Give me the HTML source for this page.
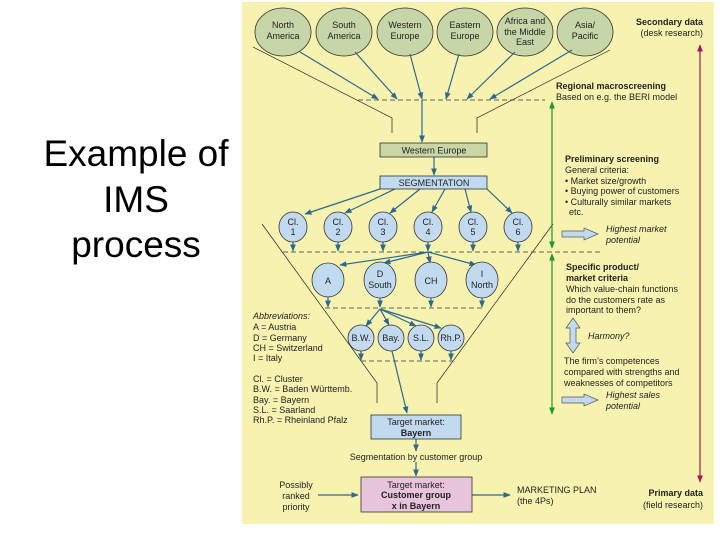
<!DOCTYPE html>
<html><head><meta charset="utf-8"><style>
html,body{margin:0;padding:0;background:#fff;}
svg{display:block;font-family:"Liberation Sans",sans-serif;}
</style></head><body>
<svg width="720" height="540" viewBox="0 0 720 540" xmlns="http://www.w3.org/2000/svg">
<defs>
<marker id="a" viewBox="0 0 10 10" refX="9" refY="5" markerWidth="6" markerHeight="6" orient="auto"><path d="M0,1 L10,5 L0,9 z" fill="#2a6a90"/></marker>
<marker id="g" viewBox="0 0 10 10" refX="9" refY="5" markerWidth="6" markerHeight="6" orient="auto-start-reverse"><path d="M0,1 L10,5 L0,9 z" fill="#1a9a2a"/></marker>
<marker id="p" viewBox="0 0 10 10" refX="9" refY="5" markerWidth="6" markerHeight="6" orient="auto-start-reverse"><path d="M0,1 L10,5 L0,9 z" fill="#a0185a"/></marker>
</defs>
<text x="136" y="166" font-size="37" text-anchor="middle" fill="#000">Example of</text>
<text x="136" y="212" font-size="37" text-anchor="middle" fill="#000">IMS</text>
<text x="136" y="257" font-size="37" text-anchor="middle" fill="#000">process</text>
<rect x="242" y="2" width="472" height="522" fill="#f7f2b0"/>
<g fill="#c7d6a8" stroke="#333" stroke-width="0.8">
<ellipse cx="283" cy="32" rx="28" ry="24"/><ellipse cx="344" cy="32" rx="28" ry="24"/><ellipse cx="405" cy="32" rx="28" ry="24"/><ellipse cx="465" cy="32" rx="28" ry="24"/><ellipse cx="525" cy="32" rx="28" ry="24"/><ellipse cx="585" cy="32" rx="28" ry="24"/>
</g>
<g font-size="9" fill="#222" text-anchor="middle">
<text x="283" y="28">North</text><text x="283" y="39">America</text>
<text x="344" y="28">South</text><text x="344" y="39">America</text>
<text x="405" y="28">Western</text><text x="405" y="39">Europe</text>
<text x="465" y="28">Eastern</text><text x="465" y="39">Europe</text>
<text x="525" y="24">Africa and</text><text x="525" y="35">the Middle</text><text x="525" y="45">East</text>
<text x="585" y="28">Asia/</text><text x="585" y="39">Pacific</text>
</g>
<g stroke="#222" stroke-width="0.7" fill="none">
<polyline points="253,47 392,118 392,133"/><polyline points="610,50 477,118 477,133"/>
<polyline points="262,224 377,383 377,403"/><polyline points="553,224 437,383 437,403"/>
</g>
<g stroke="#333" stroke-width="0.8" stroke-dasharray="5,3" fill="none">
<line x1="358" y1="100" x2="545" y2="100"/><line x1="283" y1="252" x2="600" y2="252"/>
<line x1="325" y1="308" x2="485" y2="308"/><line x1="361" y1="361" x2="453" y2="361"/>
</g>
<g stroke="#2a6a90" stroke-width="1.2" fill="none" marker-end="url(#a)">
<line x1="300" y1="52" x2="378" y2="99"/><line x1="355" y1="52" x2="397" y2="99"/><line x1="410" y1="54" x2="422" y2="99"/><line x1="459" y1="54" x2="446" y2="99"/><line x1="515" y1="52" x2="467" y2="99"/><line x1="572" y1="50" x2="490" y2="99"/>
<line x1="422" y1="100" x2="422" y2="142"/><line x1="434" y1="157" x2="434" y2="175"/>
<line x1="380" y1="189" x2="305" y2="214"/><line x1="395" y1="189" x2="345" y2="213"/><line x1="420" y1="189" x2="390" y2="213"/><line x1="445" y1="189" x2="432" y2="212"/><line x1="465" y1="189" x2="471" y2="212"/><line x1="487" y1="189" x2="512" y2="213"/>
<line x1="293" y1="242" x2="293" y2="251"/><line x1="338" y1="242" x2="338" y2="251"/><line x1="383" y1="242" x2="383" y2="251"/><line x1="428" y1="242" x2="428" y2="251"/><line x1="473" y1="242" x2="473" y2="251"/><line x1="518" y1="242" x2="518" y2="251"/>
<line x1="428" y1="252" x2="340" y2="265"/><line x1="428" y1="252" x2="384" y2="263"/><line x1="428" y1="252" x2="430" y2="263"/><line x1="428" y1="252" x2="476" y2="265"/>
<line x1="328" y1="296" x2="328" y2="307"/><line x1="380" y1="298" x2="380" y2="307"/><line x1="431" y1="298" x2="431" y2="307"/><line x1="482" y1="298" x2="482" y2="307"/>
<line x1="380" y1="309" x2="366" y2="326"/><line x1="380" y1="309" x2="389" y2="325"/><line x1="380" y1="309" x2="416" y2="326"/><line x1="380" y1="309" x2="441" y2="328"/>
<line x1="361" y1="351" x2="361" y2="360"/><line x1="421" y1="351" x2="421" y2="360"/><line x1="451" y1="351" x2="451" y2="360"/>
<line x1="392" y1="351" x2="407" y2="413"/>
<line x1="416" y1="439" x2="416" y2="451"/><line x1="416" y1="462" x2="416" y2="476"/>
<line x1="318" y1="495" x2="358" y2="495"/><line x1="472" y1="495" x2="510" y2="495"/>
</g>
<rect x="380" y="143" width="107" height="14" fill="#c9d6a6" stroke="#333" stroke-width="0.8"/>
<text x="434" y="153.5" font-size="9" text-anchor="middle" fill="#222">Western Europe</text>
<rect x="380" y="176" width="107" height="13" fill="#c2daf0" stroke="#333" stroke-width="0.8"/>
<text x="434" y="186" font-size="9" text-anchor="middle" fill="#222">SEGMENTATION</text>
<g fill="#c2daf0" stroke="#333" stroke-width="0.8">
<ellipse cx="293" cy="227" rx="14" ry="15"/><ellipse cx="338" cy="227" rx="14" ry="15"/><ellipse cx="383" cy="227" rx="14" ry="15"/><ellipse cx="428" cy="227" rx="14" ry="15"/><ellipse cx="473" cy="227" rx="14" ry="15"/><ellipse cx="518" cy="227" rx="14" ry="15"/>
<ellipse cx="328" cy="280" rx="16" ry="17"/><ellipse cx="380" cy="280" rx="16" ry="18"/><ellipse cx="431" cy="280" rx="16" ry="18"/><ellipse cx="482" cy="280" rx="16" ry="18"/>
<ellipse cx="361" cy="338" rx="13" ry="13"/><ellipse cx="391" cy="338" rx="13" ry="13"/><ellipse cx="421" cy="338" rx="13" ry="13"/><ellipse cx="451" cy="338" rx="13" ry="13"/>
</g>
<g font-size="9" fill="#222" text-anchor="middle">
<text x="293" y="225">Cl.</text><text x="293" y="235">1</text><text x="338" y="225">Cl.</text><text x="338" y="235">2</text><text x="383" y="225">Cl.</text><text x="383" y="235">3</text><text x="428" y="225">Cl.</text><text x="428" y="235">4</text><text x="473" y="225">Cl.</text><text x="473" y="235">5</text><text x="518" y="225">Cl.</text><text x="518" y="235">6</text>
<text x="328" y="284">A</text><text x="380" y="277">D</text><text x="380" y="288">South</text><text x="431" y="284">CH</text><text x="482" y="277">I</text><text x="482" y="288">North</text>
<text x="361" y="341">B.W.</text><text x="391" y="341">Bay.</text><text x="421" y="341">S.L.</text><text x="451" y="341">Rh.P.</text>
</g>
<rect x="371" y="415" width="90" height="24" fill="#c2daf0" stroke="#333" stroke-width="0.8"/>
<text x="416" y="425" font-size="9" text-anchor="middle" fill="#222">Target market:</text>
<text x="416" y="436" font-size="9" text-anchor="middle" font-weight="bold" fill="#222">Bayern</text>
<text x="416" y="460" font-size="9" text-anchor="middle" fill="#222">Segmentation by customer group</text>
<rect x="361" y="477" width="111" height="35" fill="#e8c3dc" stroke="#333" stroke-width="0.8"/>
<text x="416" y="488" font-size="9" text-anchor="middle" fill="#222">Target market:</text>
<text x="416" y="498" font-size="9" text-anchor="middle" font-weight="bold" fill="#222">Customer group</text>
<text x="416" y="509" font-size="9" text-anchor="middle" font-weight="bold" fill="#222">x in Bayern</text>
<g font-size="9" fill="#222">
<text x="296" y="488" text-anchor="middle">Possibly</text><text x="296" y="499" text-anchor="middle">ranked</text><text x="296" y="510" text-anchor="middle">priority</text>
<text x="517" y="493">MARKETING PLAN</text><text x="517" y="504">(the 4Ps)</text>
<text x="703" y="496" text-anchor="end" font-weight="bold">Primary data</text><text x="703" y="508" text-anchor="end">(field research)</text>
<text x="703" y="25" text-anchor="end" font-weight="bold">Secondary data</text><text x="703" y="36" text-anchor="end">(desk research)</text>
<text x="556" y="89" font-weight="bold">Regional macroscreening</text><text x="556" y="100">Based on e.g. the BERI model</text>
<text x="565" y="162" font-weight="bold">Preliminary screening</text><text x="565" y="173">General criteria:</text>
<text x="565" y="184">• Market size/growth</text><text x="565" y="194">• Buying power of customers</text><text x="565" y="205">• Culturally similar markets</text><text x="569" y="215">etc.</text>
<text x="606" y="232" font-style="italic">Highest market</text><text x="606" y="243" font-style="italic">potential</text>
<text x="566" y="270" font-weight="bold">Specific product/</text><text x="566" y="281" font-weight="bold">market criteria</text>
<text x="566" y="292">Which value-chain functions</text><text x="566" y="303">do the customers rate as</text><text x="566" y="313">important to them?</text>
<text x="588" y="339" font-style="italic">Harmony?</text>
<text x="564" y="364">The firm’s competences</text><text x="564" y="375">compared with strengths and</text><text x="564" y="386">weaknesses of competitors</text>
<text x="606" y="398" font-style="italic">Highest sales</text><text x="606" y="409" font-style="italic">potential</text>
<text x="253" y="319" font-style="italic">Abbreviations:</text>
<text x="253" y="330">A = Austria</text><text x="253" y="341">D = Germany</text><text x="253" y="351">CH = Switzerland</text><text x="253" y="361">I = Italy</text>
<text x="253" y="382">Cl. = Cluster</text><text x="253" y="392">B.W. = Baden Württemb.</text><text x="253" y="403">Bay. = Bayern</text><text x="253" y="413">S.L. = Saarland</text><text x="253" y="423">Rh.P. = Rheinland Pfalz</text>
</g>
<line x1="552" y1="102" x2="552" y2="248" stroke="#1a9a2a" stroke-width="1.2" marker-start="url(#g)" marker-end="url(#g)"/>
<line x1="552" y1="254" x2="552" y2="414" stroke="#1a9a2a" stroke-width="1.2" marker-start="url(#g)" marker-end="url(#g)"/>
<line x1="700" y1="45" x2="700" y2="482" stroke="#a0185a" stroke-width="1.2" marker-start="url(#p)" marker-end="url(#p)"/>
<g fill="#c2daf0" stroke="#555" stroke-width="0.7">
<path d="M562,231 L584,231 L584,228 L598,234 L584,240 L584,237 L562,237 z"/>
<path d="M562,397 L584,397 L584,394 L598,400 L584,406 L584,403 L562,403 z"/>
<path d="M573,318 L580,328 L576,328 L576,343 L580,343 L573,353 L566,343 L570,343 L570,328 L566,328 z"/>
</g>
</svg>
</body></html>
